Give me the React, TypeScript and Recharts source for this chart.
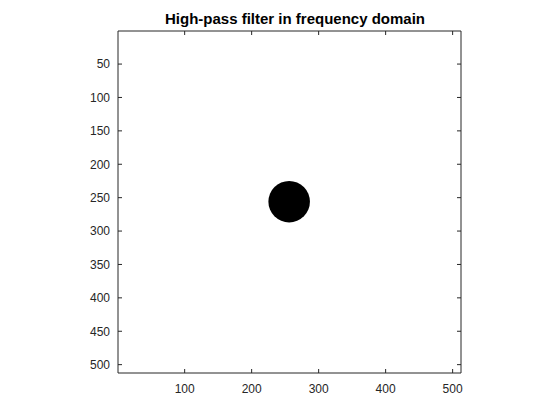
import { ScatterChart, Scatter, XAxis, YAxis, ReferenceLine } from 'recharts'

// 512x512 filter mask, black disc = stop band around the centre
const imageSize = 512
const xTicks = [100, 200, 300, 400, 500]
const yTicks = [50, 100, 150, 200, 250, 300, 350, 400, 450, 500]
const cutoffCenter = [{ x: 256, y: 256 }]
const cutoffRadius = 31
const title = 'High-pass filter in frequency domain'

const W = 560
const H = 420
const margin = { top: 31, right: 99, bottom: 17, left: 78 }
const yAxisW = 40
const xAxisH = 30
const plotLeft = margin.left + yAxisW
const plotRight = W - margin.right
const plotTop = margin.top
const plotBottom = H - margin.bottom - xAxisH
const plotW = plotRight - plotLeft

const ink = '#262626'
const font = '"Liberation Sans", Arial, Helvetica, sans-serif'
const domain: [number, number] = [0.5, imageSize + 0.5]
const tickLen = 4

const Disc = (props: any) => {
  const r = (cutoffRadius * plotW) / imageSize
  return <circle cx={props.cx} cy={props.cy} r={r} fill="#000" />
}

// MATLAB style: ticks point inward, mirrored on the opposite side of the box
const XTick = ({ x, payload }: any) => (
  <g>
    <line x1={x} x2={x} y1={plotBottom} y2={plotBottom - tickLen} stroke={ink} />
    <line x1={x} x2={x} y1={plotTop} y2={plotTop + tickLen} stroke={ink} />
    <text x={x} y={plotBottom + 20} textAnchor="middle" fontFamily={font} fontSize={12} fill={ink}>
      {payload.value}
    </text>
  </g>
)

const YTick = ({ y, payload }: any) => (
  <g>
    <line x1={plotLeft} x2={plotLeft + tickLen} y1={y} y2={y} stroke={ink} />
    <line x1={plotRight} x2={plotRight - tickLen} y1={y} y2={y} stroke={ink} />
    <text x={plotLeft - 8} y={y} dy="0.36em" textAnchor="end" fontFamily={font} fontSize={12} fill={ink}>
      {payload.value}
    </text>
  </g>
)

export default function App() {
  return (
    <div style={{ position: 'absolute', left: 0, top: 0, width: W, height: H, background: '#fff' }}>
      <ScatterChart width={W} height={H} margin={margin}>
        <XAxis
          type="number"
          dataKey="x"
          domain={domain}
          ticks={xTicks}
          allowDataOverflow
          height={xAxisH}
          tickLine={false}
          tick={<XTick />}
          axisLine={{ stroke: ink }}
        />
        <YAxis
          type="number"
          dataKey="y"
          reversed
          domain={domain}
          ticks={yTicks}
          allowDataOverflow
          width={yAxisW}
          tickLine={false}
          tick={<YTick />}
          axisLine={{ stroke: ink }}
        />
        <ReferenceLine y={domain[0]} stroke={ink} />
        <ReferenceLine x={domain[1]} stroke={ink} />
        <Scatter data={cutoffCenter} shape={Disc} isAnimationActive={false} />
      </ScatterChart>
      <svg width={W} height={40} style={{ position: 'absolute', left: 0, top: 0 }}>
        <text x={295} y={24} textAnchor="middle" fontFamily={font} fontWeight="bold" fontSize={15} fill="#000">
          {title}
        </text>
      </svg>
    </div>
  )
}
